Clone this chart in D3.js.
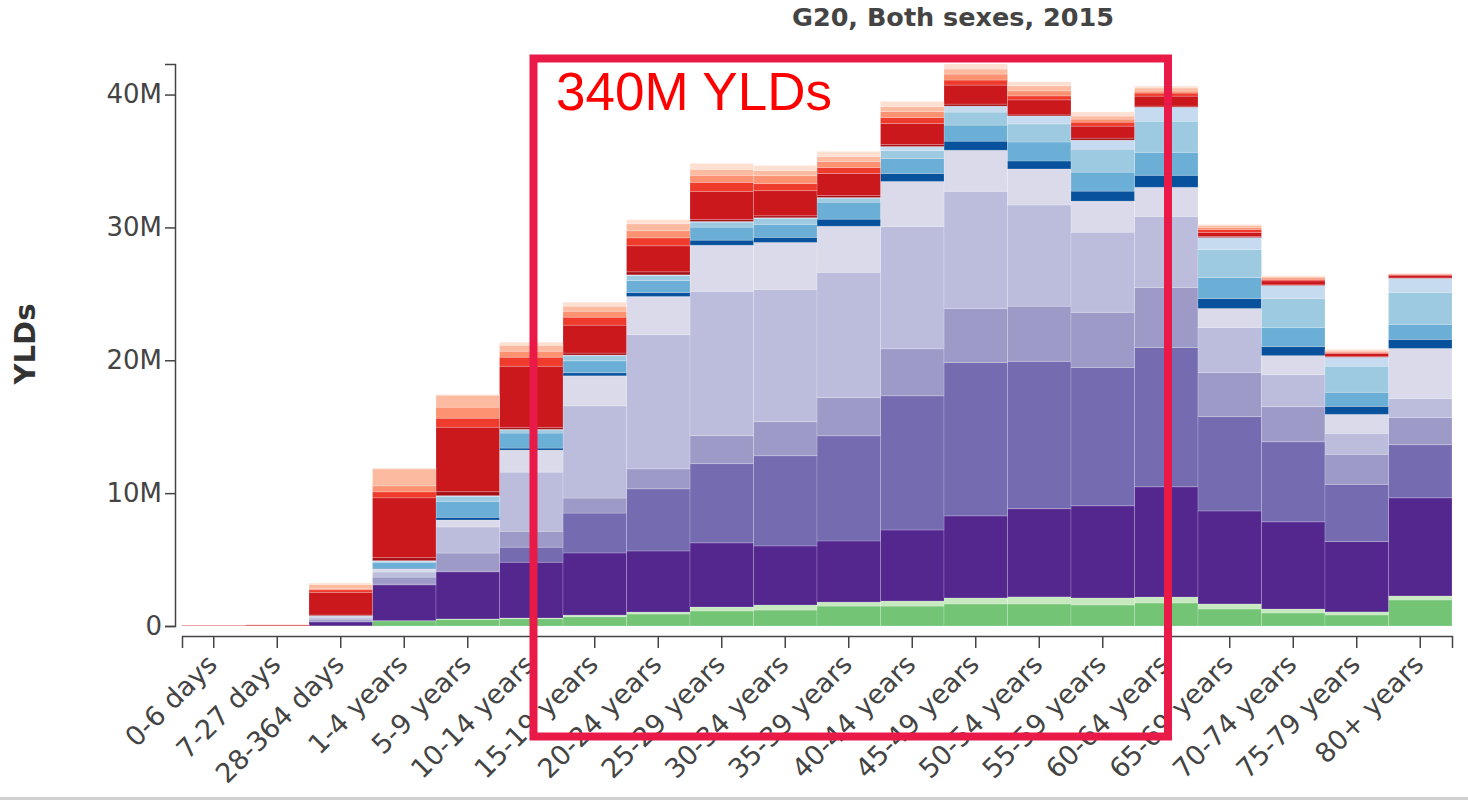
<!DOCTYPE html>
<html lang="en">
<head>
<meta charset="utf-8">
<title>YLDs by age, G20 2015</title>
<script src="https://d3js.org/d3.v7.min.js"></script>
<style>
  body { margin: 0; background: #fff; }
  svg text { font-family: "DejaVu Sans", sans-serif; }
</style>
</head>
<body>
<script>
const ageGroups = ["0-6 days", "7-27 days", "28-364 days", "1-4 years", "5-9 years",
  "10-14 years", "15-19 years", "20-24 years", "25-29 years", "30-34 years",
  "35-39 years", "40-44 years", "45-49 years", "50-54 years", "55-59 years",
  "60-64 years", "65-69 years", "70-74 years", "75-79 years", "80+ years"];
const yTickValues = [0, 10e6, 20e6, 30e6, 40e6];

// YLDs in millions, one array per stacked layer (bottom to top)
const green1  = [0, 0, 0.01, 0.38, 0.5, 0.55, 0.7, 0.9, 1.13, 1.2, 1.5, 1.5, 1.66, 1.66, 1.58, 1.73, 1.28, 0.98, 0.83, 1.96];
const green2  = [0, 0, 0, 0.02, 0.03, 0.05, 0.12, 0.15, 0.3, 0.38, 0.3, 0.38, 0.45, 0.53, 0.53, 0.45, 0.38, 0.3, 0.23, 0.3];
const purple1 = [0, 0, 0.3, 2.7, 3.55, 4.2, 4.68, 4.6, 4.83, 4.45, 4.6, 5.35, 6.18, 6.64, 6.94, 8.3, 7.0, 6.56, 5.3, 7.39];
const purple2 = [0, 0, 0.05, 0.05, 0.05, 1.13, 3.0, 4.68, 5.96, 6.79, 7.92, 10.1, 11.54, 11.09, 10.41, 10.48, 7.1, 6.03, 4.3, 4.0];
const purple3 = [0, 0, 0.15, 0.53, 1.36, 1.2, 1.13, 1.5, 2.11, 2.56, 2.87, 3.54, 4.07, 4.15, 4.15, 4.52, 3.32, 2.64, 2.26, 2.04];
const purple4 = [0, 0, 0.15, 0.38, 1.96, 4.45, 6.94, 10.1, 10.86, 9.95, 9.43, 9.2, 8.82, 7.62, 6.03, 5.35, 3.39, 2.41, 1.58, 1.43];
const purple5 = [0, 0, 0.08, 0.23, 0.53, 1.66, 2.26, 2.87, 3.47, 3.54, 3.47, 3.39, 3.09, 2.71, 2.34, 2.19, 1.43, 1.43, 1.43, 3.77];
const blue1   = [0, 0, 0.01, 0.05, 0.2, 0.15, 0.23, 0.3, 0.38, 0.38, 0.53, 0.6, 0.68, 0.6, 0.75, 0.9, 0.75, 0.68, 0.6, 0.68];
const blue2   = [0, 0, 0.02, 0.45, 1.2, 1.13, 0.9, 0.9, 0.98, 0.98, 1.28, 1.13, 1.21, 1.43, 1.43, 1.73, 1.58, 1.43, 1.06, 1.13];
const blue3   = [0, 0, 0.01, 0.08, 0.38, 0.23, 0.38, 0.38, 0.38, 0.45, 0.3, 0.6, 0.98, 1.36, 1.73, 2.34, 2.11, 2.19, 1.96, 2.41];
const blue4   = [0, 0, 0, 0.05, 0.05, 0.05, 0.05, 0.05, 0.05, 0.05, 0.05, 0.3, 0.45, 0.6, 0.68, 1.06, 0.9, 0.98, 0.68, 1.06];
const red1    = [0, 0, 0.05, 0.23, 0.3, 0.15, 0.15, 0.23, 0.15, 0.15, 0.15, 0.15, 0.15, 0.08, 0.15, 0.08, 0.08, 0.05, 0.05, 0.03];
const red2    = [0.04, 0.07, 1.7, 4.5, 4.85, 4.6, 2.1, 1.96, 2.11, 1.89, 1.66, 1.58, 1.43, 1.13, 0.9, 0.75, 0.3, 0.3, 0.23, 0.2];
const red3    = [0.005, 0.01, 0.2, 0.45, 0.68, 0.68, 0.6, 0.6, 0.68, 0.53, 0.45, 0.45, 0.38, 0.3, 0.3, 0.23, 0.23, 0.11, 0.08, 0.05];
const red4    = [0, 0.01, 0.1, 0.45, 0.83, 0.45, 0.45, 0.53, 0.53, 0.6, 0.45, 0.45, 0.45, 0.38, 0.23, 0.15, 0.15, 0.11, 0.08, 0.04];
const red5    = [0, 0.005, 0.3, 1.28, 0.9, 0.45, 0.38, 0.53, 0.45, 0.38, 0.38, 0.38, 0.38, 0.38, 0.23, 0.23, 0.15, 0.08, 0.08, 0.03];
const red6    = [0, 0, 0.1, 0.05, 0.05, 0.23, 0.3, 0.3, 0.45, 0.38, 0.38, 0.38, 0.38, 0.3, 0.3, 0.15, 0.08, 0.08, 0.08, 0.03];

const layers = [
  { key: "green1", color: "#74c476", values: green1 },
  { key: "green2", color: "#c7e9c0", values: green2 },
  { key: "purple1", color: "#54278f", values: purple1 },
  { key: "purple2", color: "#756bb1", values: purple2 },
  { key: "purple3", color: "#9e9ac8", values: purple3 },
  { key: "purple4", color: "#bcbddc", values: purple4 },
  { key: "purple5", color: "#dadaeb", values: purple5 },
  { key: "blue1", color: "#08519c", values: blue1 },
  { key: "blue2", color: "#6baed6", values: blue2 },
  { key: "blue3", color: "#9ecae1", values: blue3 },
  { key: "blue4", color: "#c6dbef", values: blue4 },
  { key: "red1", color: "#a50f15", values: red1 },
  { key: "red2", color: "#cb181d", values: red2 },
  { key: "red3", color: "#ef3b2c", values: red3 },
  { key: "red4", color: "#fc9272", values: red4 },
  { key: "red5", color: "#fcbba1", values: red5 },
  { key: "red6", color: "#fee0d2", values: red6 }
]

const width = 1468, height = 800

// one row per age group, values in YLDs
const rows = ageGroups.map((age, i) => {
  const row = { age: age }
  layers.forEach(l => row[l.key] = l.values[i] * 1e6)
  return row
})

const stacked = d3.stack().keys(layers.map(l => l.key))(rows)
const maxTotal = d3.max(stacked[stacked.length - 1], d => d[1])

const x = d3.scaleBand()
  .domain(ageGroups)
  .range([182, 1452])
  .paddingInner(0)

const y = d3.scaleLinear()
  .domain([0, maxTotal])
  .range([626, 64])

const svg = d3.select("body").append("svg")
  .attr("width", width)
  .attr("height", height)

svg.append("g")
  .selectAll("g")
  .data(stacked)
  .join("g")
    .attr("fill", (d, i) => layers[i].color)
  .selectAll("rect")
  .data(d => d)
  .join("rect")
    .attr("x", d => x(d.data.age))
    .attr("width", x.bandwidth())
    .attr("y", d => y(d[1]))
    .attr("height", d => Math.max(0, y(d[0]) - y(d[1])))
    .attr("stroke", "#fff")
    .attr("stroke-opacity", 0.18)
    .attr("stroke-width", 1)

// axes
const yAxis = d3.axisLeft(y)
  .tickValues(yTickValues)
  .tickFormat(d3.format("~s"))
  .tickSize(10)
  .tickPadding(3)

const gy = svg.append("g")
  .attr("transform", "translate(175,0)")
  .call(yAxis)
gy.selectAll("text").attr("font-size", 26).attr("fill", "#444")
gy.selectAll("line, path").attr("stroke", "#444").attr("stroke-width", 1.5)

const xAxis = d3.axisBottom(x)
  .tickSize(12)

const gx = svg.append("g")
  .attr("transform", "translate(0,636)")
  .call(xAxis)
gx.selectAll("line, path").attr("stroke", "#444").attr("stroke-width", 1.5)
gx.selectAll("text")
  .attr("font-size", 27)
  .attr("fill", "#444")
  .attr("x", 0).attr("y", 0).attr("dy", 0)
  .attr("text-anchor", "end")
  .attr("transform", "translate(5,30) rotate(-45)")

// labels
svg.append("text")
  .attr("x", 953)
  .attr("y", 26)
  .attr("text-anchor", "middle")
  .attr("font-size", 25.5)
  .attr("font-weight", "bold")
  .attr("fill", "#444")
  .text("G20, Both sexes, 2015")

svg.append("text")
  .attr("transform", "translate(35,344) rotate(-90)")
  .attr("text-anchor", "middle")
  .attr("font-size", 29)
  .attr("font-weight", "bold")
  .attr("fill", "#333")
  .text("YLDs")

// highlight box
svg.append("rect")
  .attr("x", 533.5)
  .attr("y", 58.5)
  .attr("width", 1168 - 533.5)
  .attr("height", 736.5 - 58.5)
  .attr("fill", "none")
  .attr("stroke", "#ea1a48")
  .attr("stroke-width", 8)

svg.append("text")
  .attr("x", 556)
  .attr("y", 110)
  .style("font-family", "'Liberation Sans', Arial, sans-serif")
  .attr("font-size", 53)
  .attr("fill", "#ff0000")
  .text("340M YLDs")

svg.append("line")
  .attr("x1", 0).attr("x2", width)
  .attr("y1", 798.5).attr("y2", 798.5)
  .attr("stroke", "#d0d0d0")
  .attr("stroke-width", 3)
</script>
</body>
</html>
